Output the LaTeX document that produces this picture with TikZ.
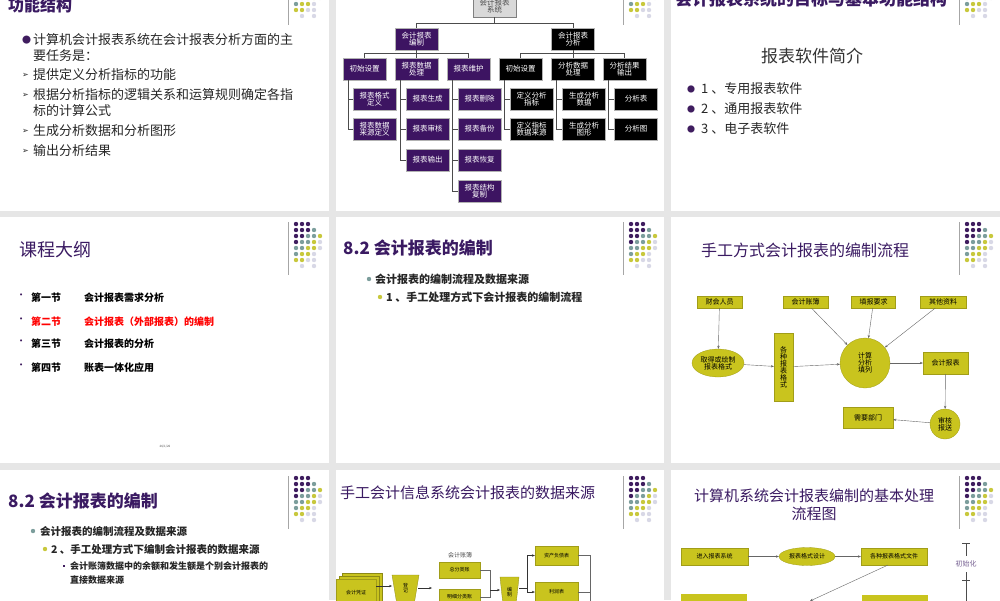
\documentclass[tikz,border=0pt]{standalone}
\usepackage{fontspec}
\setmainfont{Noto Sans CJK SC}
\newfontfamily\dejavu{DejaVu Sans}
\usetikzlibrary{arrows.meta,shapes.geometric}
\definecolor{dp}{HTML}{3F1D5F}
\definecolor{dt}{HTML}{7C9E9C}
\definecolor{dy}{HTML}{C8C83C}
\definecolor{dl}{HTML}{D8D8E6}
\definecolor{bgc}{HTML}{E6E6E6}
\definecolor{tpurple}{HTML}{3A1A62}
\definecolor{fbox}{HTML}{C9C41E}
\definecolor{obp}{HTML}{3D1462}
\newcommand\fsz[1]{\fontsize{#1}{#1}\selectfont}
\newcommand\deco[2]{%
  \draw[gray!70,line width=0.6pt] (#1-41,#2-2) -- (#1-41,#2+51);
  \foreach \c/\r/\col in {0/0/dp,1/0/dp,2/0/dp,0/1/dp,1/1/dp,2/1/dp,3/1/dt,
     0/2/dp,1/2/dp,2/2/dt,3/2/dt,4/2/dy,0/3/dp,1/3/dt,2/3/dt,3/3/dy,4/3/dl,
     0/4/dt,1/4/dt,2/4/dy,3/4/dy,4/4/dl,0/5/dt,1/5/dy,2/5/dy,3/5/dl,
     0/6/dy,1/6/dy,2/6/dl,3/6/dl,1/7/dl,3/7/dl}
     {\fill[\col] (#1-33+6*\c,#2+6*\r) circle (2.2pt);}}
\tikzset{
  txt/.style={anchor=west,inner sep=0pt,text=black!85},
  pbox/.style={draw=gray!60,fill=obp,text=white,minimum width=43pt,minimum height=22pt,inner sep=0pt,align=center,font=\fsz{7.5}},
  kbox/.style={pbox,fill=black},
  fbx/.style={fill=fbox,draw=fbox!80!black,line width=0.3pt,inner sep=1pt,align=center,font=\fsz{7}},
  garr/.style={gray!80!black,line width=0.4pt,-{Stealth[length=3pt,width=2.4pt]}},
  oline/.style={black!70,line width=0.5pt}
}
\begin{document}
\begin{tikzpicture}[x=1pt,y=-1pt]
\useasboundingbox (0,0) rectangle (1000,600);
\clip (0,0) rectangle (1000,600);
\fill[bgc] (0,0) rectangle (1000,600);
% panels
\foreach \xa/\xb in {0/329,336/664,671/1000}{
  \fill[white] (\xa,0) rectangle (\xb,211);
  \fill[white] (\xa,217) rectangle (\xb,463);
  \fill[white] (\xa,470) rectangle (\xb,600);
}
% decorations
\begin{scope}\clip (0,0) rectangle (1000,211);
\deco{329}{-26}\deco{664}{-26}\deco{1000}{-26}
\end{scope}
\deco{329}{224}\deco{664}{224}\deco{1000}{224}
\deco{329}{478}\deco{664}{478}\deco{1000}{478}

% ---------- Panel A
\node[txt,text=tpurple,font=\fsz{16}\bfseries] (ta) at (8,5) {功能结构};
\node[txt,text=dp,font=\fsz{9}] (a0b) at (22,40) {●};
\node[txt,font=\fsz{13}] (a0) at (33,40) {计算机会计报表系统在会计报表分析方面的主};
\node[txt,font=\fsz{13}] (a0c) at (33,56) {要任务是：};
\foreach \y/\t [count=\i] in {75/提供定义分析指标的功能,95/根据分析指标的逻辑关系和运算规则确定各指,131/生成分析数据和分析图形,151/输出分析结果}{
  \node[txt,font=\dejavu\fsz{8}] (ab\i) at (22,\y) {➢};
  \node[txt,font=\fsz{13}] (a\i) at (33,\y) {\t};}
\node[txt,font=\fsz{13}] (a2c) at (33,111) {标的计算公式};

% ---------- Panel B (org chart)
\node[pbox,fill=gray!30,text=black!70,draw=gray] (root) at (494.5,6) {会计报表\\系统};
\node[pbox] (L) at (416.5,39) {会计报表\\编制};
\node[kbox] (R) at (573,39) {会计报表\\分析};
\draw[oline] (root.south) -- (494.5,23) -| (L.north);
\draw[oline] (494.5,23) -| (R.north);
\node[pbox] (p1) at (364.5,69) {初始设置};
\node[pbox] (p2) at (416.5,69) {报表数据\\处理};
\node[pbox] (p3) at (468.5,69) {报表维护};
\node[kbox] (p4) at (520.5,69) {初始设置};
\node[kbox] (p5) at (573,69) {分析数据\\处理};
\node[kbox] (p6) at (624.5,69) {分析结果\\输出};
\draw[oline] (L.south) -- (416.5,53) -| (p1.north); \draw[oline] (416.5,53) -- (p2.north);
\draw[oline] (416.5,53) -| (p3.north);
\draw[oline] (R.south) -- (573,53) -| (p4.north); \draw[oline] (573,53) -- (p5.north);
\draw[oline] (573,53) -| (p6.north);
\node[pbox] (c11) at (374.5,99) {报表格式\\定义};
\node[pbox] (c12) at (374.5,129) {报表数据\\来源定义};
\node[pbox] (c21) at (427.5,99) {报表生成};
\node[pbox] (c22) at (427.5,129) {报表审核};
\node[pbox] (c23) at (427.5,160) {报表输出};
\node[pbox] (c31) at (479.5,99) {报表删除};
\node[pbox] (c32) at (479.5,129) {报表备份};
\node[pbox] (c33) at (479.5,160) {报表恢复};
\node[pbox] (c34) at (479.5,191) {报表结构\\复制};
\node[kbox] (c41) at (531.5,99) {定义分析\\指标};
\node[kbox] (c42) at (531.5,129) {定义指标\\数据来源};
\node[kbox] (c51) at (584,99) {生成分析\\数据};
\node[kbox] (c52) at (584,129) {生成分析\\图形};
\node[kbox] (c61) at (636,99) {分析表};
\node[kbox] (c62) at (636,129) {分析图};
\foreach \p/\cs in {p1/{c11,c12},p2/{c21,c22,c23},p3/{c31,c32,c33,c34},p4/{c41,c42},p5/{c51,c52},p6/{c61,c62}}
  \foreach \c in \cs {\draw[oline] ([xshift=5pt]\p.south west) |- (\c.west);}

% ---------- Panel C
\node[txt,text=tpurple,font=\fsz{17}\bfseries] (tc) at (675,-1) {会计报表系统的目标与基本功能结构};
\node[font=\fsz{17},text=black!80,inner sep=0pt] (sc) at (812,56) {报表软件简介};
\foreach \y/\t [count=\i] in {89/1 、专用报表软件,109/2 、通用报表软件,129/3 、电子表软件}{
  \node[txt,text=dp,font=\fsz{8}] (cb\i) at (687,\y) {●};
  \node[txt,font=\fsz{13}] (ct\i) at (701,\y) {\t};}

% ---------- Panel D
\node[txt,text=tpurple,font=\fsz{18}] (td) at (19,250) {课程大纲};
\foreach \y/\a/\b/\col [count=\i] in {298/第一节/会计报表需求分析/black,322/第二节/会计报表（外部报表）的编制/red,344/第三节/会计报表的分析/black,368/第四节/账表一体化应用/black}{
  \node[txt,text=dp,font=\dejavu\fsz{7}] (db\i) at (19,\y-2) {•};
  \node[txt,text=\col,font=\fsz{10}\bfseries] (da\i) at (31,\y) {\a};
  \node[txt,text=\col,font=\fsz{10}\bfseries] (dt\i) at (84,\y) {\b};}
\node[font=\fsz{3},text=black!70] (dfoot) at (165,447) {26/1/26};

% ---------- Panel E
\node[txt,text=tpurple,font=\fsz{17}\bfseries] (te) at (343,248) {8.2 会计报表的编制};
\fill[dt] (369,279) circle (2.2pt);
\node[txt,font=\fsz{11}\bfseries] (e1) at (375,279) {会计报表的编制流程及数据来源};
\fill[dy] (380,297) circle (2.2pt);
\node[txt,font=\fsz{11}\bfseries] (e2) at (386,297) {1 、手工处理方式下会计报表的编制流程};

% ---------- Panel F
\node[txt,text=tpurple,font=\fsz{16}] (tf) at (701,250) {手工方式会计报表的编制流程};
\node[fbx,minimum width=45pt,minimum height=12pt] (f1) at (719.5,302) {财会人员};
\node[fbx,minimum width=45pt,minimum height=12pt] (f2) at (805.5,302) {会计账簿};
\node[fbx,minimum width=44pt,minimum height=12pt] (f3) at (873.5,302) {填报要求};
\node[fbx,minimum width=46pt,minimum height=12pt] (f4) at (943,302) {其他资料};
\node[fbx,ellipse,minimum width=52pt,minimum height=28pt,inner sep=0pt] (f5) at (718,363) {取得或绘制\\报表格式};
\node[fbx,minimum width=19pt,minimum height=68pt,inner sep=0pt] (f6) at (783.5,367) {各\\种\\报\\表\\格\\式};
\node[fbx,circle,minimum size=50pt,inner sep=0pt] (f7) at (865,363) {计算\\分析\\填列};
\node[fbx,minimum width=45pt,minimum height=22pt] (f8) at (945.5,363) {会计报表};
\node[fbx,circle,minimum size=30pt,inner sep=0pt] (f9) at (945,424) {审核\\报送};
\node[fbx,minimum width=50pt,minimum height=21pt] (f10) at (868,417.5) {需要部门};
\draw[garr] (f1) -- (f5);
\draw[garr] (f5) -- (f6);
\draw[garr] (f6) -- (f7);
\draw[garr] (f2) -- (f7);
\draw[garr] (f3) -- (f7);
\draw[garr] (f4) -- (f7);
\draw[garr] (f7) -- (f8);
\draw[garr] (f8) -- (f9);
\draw[garr] (f9) -- (f10);

% ---------- Panel G
\node[txt,text=tpurple,font=\fsz{17}\bfseries] (tg) at (8,501) {8.2 会计报表的编制};
\fill[dt] (33,531) circle (2.2pt);
\node[txt,font=\fsz{10.5}\bfseries] (g1) at (40,531) {会计报表的编制流程及数据来源};
\fill[dy] (45,549) circle (2.2pt);
\node[txt,font=\fsz{10.5}\bfseries] (g2) at (51,549) {2 、手工处理方式下编制会计报表的数据来源};
\fill[dp] (63,565) rectangle ++(2,2);
\node[txt,font=\fsz{9}\bfseries] (g3) at (70,566) {会计账簿数据中的余额和发生额是个别会计报表的};
\node[txt,font=\fsz{9}\bfseries] (g4) at (70,580) {直接数据来源};

% ---------- Panel H
\node[txt,text=tpurple,font=\fsz{15}] (th) at (340,493) {手工会计信息系统会计报表的数据来源};
\node[font=\fsz{6},text=black!70,inner sep=0pt] (hl) at (460,555) {会计账簿};
\node[fbx,font=\fsz{5},minimum width=41pt,minimum height=16pt] (h1) at (459.5,570) {总分类账};
\node[fbx,font=\fsz{5},minimum width=41pt,minimum height=16pt] (h2) at (459.5,597) {明细分类账};
\node[fbx,font=\fsz{5},minimum width=43pt,minimum height=19pt] (h3) at (556.5,555.5) {资产负债表};
\node[fbx,font=\fsz{5},minimum width=43pt,minimum height=19pt] (h4) at (556.5,592) {利润表};
\fill[fbox,draw=fbox!70!black,line width=0.3pt] (342,573) rectangle (382,605);
\fill[fbox,draw=fbox!70!black,line width=0.3pt] (339,576) rectangle (379,605);
\node[fbx,font=\fsz{5},minimum width=40pt,minimum height=26pt,anchor=north west] (h0) at (336,579) {会计凭证};
\fill[fbox,draw=fbox!70!black,line width=0.3pt] (392,575) -- (419,575) -- (414,605) -- (397,605) -- cycle;
\node[font=\fsz{5},inner sep=0pt,align=center] (h5) at (405.5,588) {登\\记};
\fill[fbox,draw=fbox!70!black,line width=0.3pt] (500,577) -- (519,577) -- (516,605) -- (503,605) -- cycle;
\node[font=\fsz{5},inner sep=0pt,align=center] (h6) at (509.5,592) {编\\制};
\coordinate (hj) at (432,588);
\draw[garr,black!80] (h0.east |- 0,586) -- (392,586);
\draw[garr,black!80] (418,588) -- (hj);
\draw[black!60,line width=0.4pt] (h1.east) -- (490,570) -- (490,597) -- (h2.east);
\draw[garr,black!80] (490,590) -- (500,590);
\draw[black!80,line width=0.4pt] (519,588) -- (527,588);
\draw[garr,black!80] (527,588) |- (h3.west);
\draw[garr,black!80] (527,588) |- (h4.west);
\draw[black!60,line width=0.4pt] (h3.east) -- (590,555.5) -- (590,605);
\draw[black!60,line width=0.4pt] (h4.east) -- (590,592);

% ---------- Panel I
\node[text=tpurple,font=\fsz{15},align=center,inner sep=0pt] (ti) at (814,505) {计算机系统会计报表编制的基本处理\\[3pt]流程图};
\node[fbx,font=\fsz{6},minimum width=67pt,minimum height=17pt] (i1) at (714.5,556.5) {进入报表系统};
\node[fbx,font=\fsz{6},ellipse,minimum width=56pt,minimum height=18pt,inner sep=0pt] (i2) at (807,556.5) {报表格式设计};
\node[fbx,font=\fsz{6},minimum width=66pt,minimum height=17pt] (i3) at (894,556.5) {各种报表格式文件};
\node[font=\fsz{7},text=tpurple!70,inner sep=0pt] (i4) at (966,564) {初始化};
\fill[fbox] (681,594) rectangle (747,605);
\fill[fbox] (862,595) rectangle (928,605);
\coordinate (i5) at (810,601);
\draw[garr] (i1) -- (i2);
\draw[garr] (i2) -- (i3);
\draw[garr] (888,565) -- (i5);
\draw[black!70,line width=0.4pt] (966,543) -- (966,556);
\draw[black!70,line width=0.4pt] (962,543) -- (970,543);
\draw[black!70,line width=0.4pt] (966,572) -- (966,605);
\draw[black!70,line width=0.4pt] (962,580) -- (970,580);
\end{tikzpicture}
\end{document}
